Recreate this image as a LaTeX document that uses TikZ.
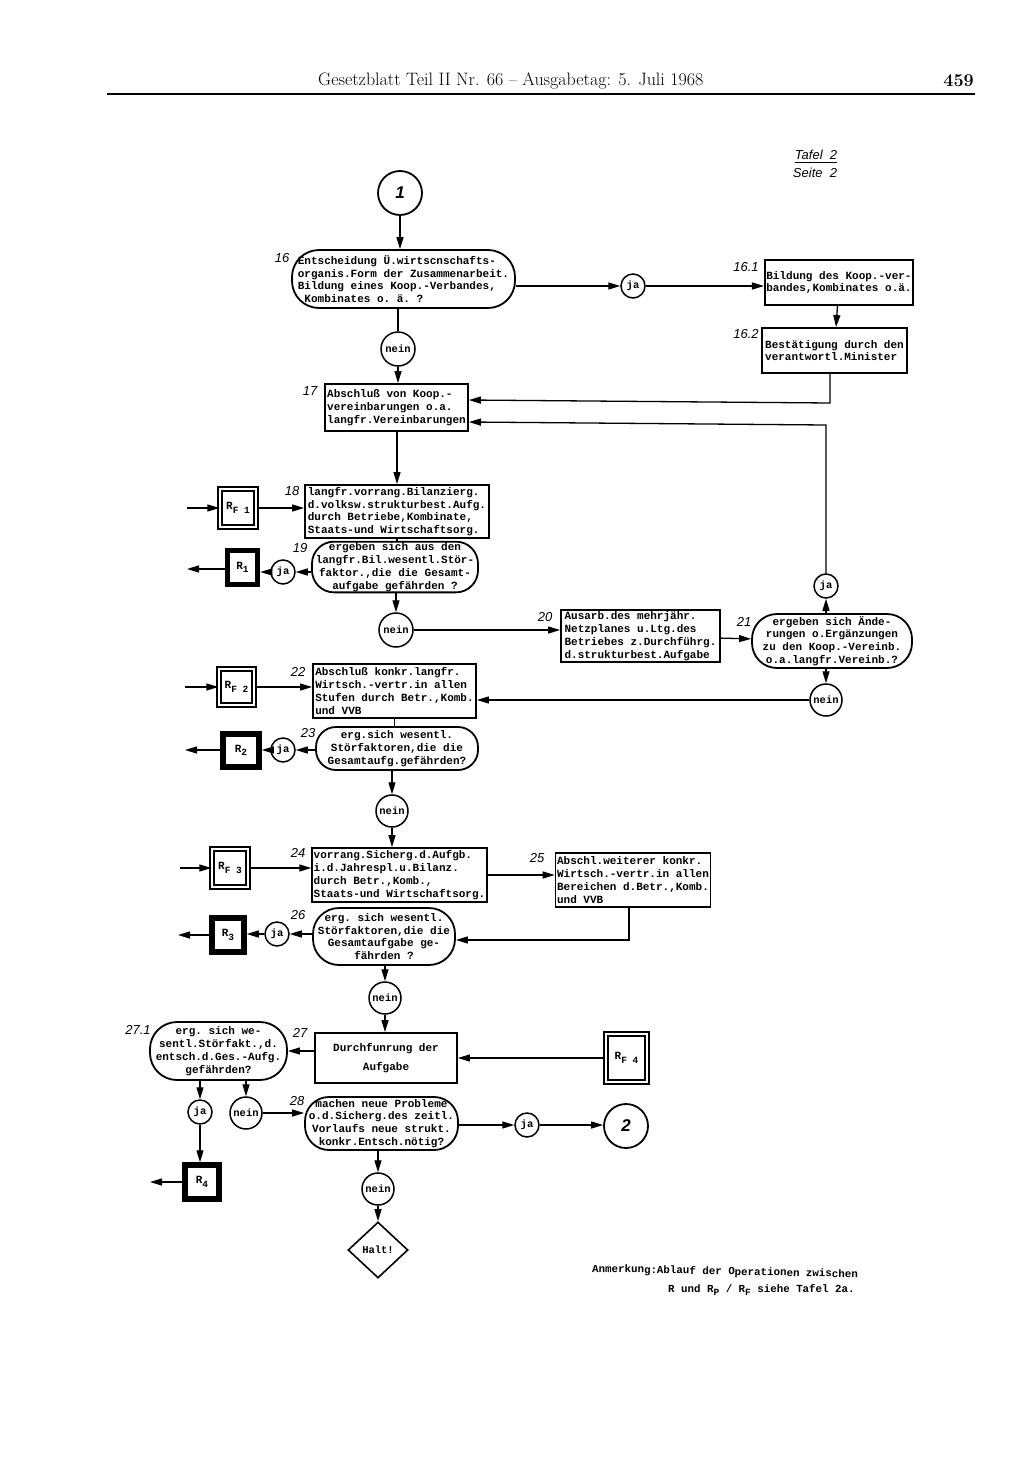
\documentclass[tikz,border=0pt]{standalone}
\usepackage{fontspec}
\setmonofont{Liberation Mono}
\setsansfont{Liberation Sans}
\usetikzlibrary{arrows.meta,shapes.geometric}
\newcommand\boxfont{\ttfamily\bfseries\fontsize{11}{12.8}\selectfont}
\newcommand\lblfont{\sffamily\itshape\fontsize{13}{15}\selectfont}
\newcommand\subs[1]{\raisebox{-3.5pt}{\fontsize{9.5}{10}\selectfont #1}}
\begin{document}
\begin{tikzpicture}[x=1pt,y=-1pt,
  box/.style={draw, line width=1.8pt, rectangle, inner xsep=1.5pt, inner ysep=2pt, align=left, font=\boxfont},
  stad/.style={draw, line width=1.8pt, rectangle, rounded corners=#1pt, inner sep=1pt, align=center, font=\boxfont},
  sz/.style 2 args={minimum width=#1pt, minimum height=#2pt},
  cir/.style={draw, circle, line width=1.5pt, minimum size=#1pt, inner sep=0pt, font=\ttfamily\bfseries\fontsize{10.5}{11}\selectfont},
  bigcir/.style={draw, circle, line width=1.8pt, minimum size=44pt, inner sep=0pt, font=\sffamily\itshape\bfseries\fontsize{17}{18}\selectfont},
  rf/.style={draw, double, double distance=2.5pt, line width=1.3pt, inner sep=0pt, font=\ttfamily\bfseries\fontsize{11}{12}\selectfont},
  rb/.style={draw, line width=5.5pt, inner sep=0pt, font=\ttfamily\bfseries\fontsize{11}{12}\selectfont},
  lbl/.style={font=\lblfont, inner sep=0pt},
  ar/.style={-{Triangle[length=12pt,width=7pt]}, line width=1.3pt},
  ln/.style={line width=1.3pt}
]
\useasboundingbox (0,0) rectangle (1024,1483);
\fill[white] (0,0) rectangle (1024,1483);

% header
\node[anchor=base west, inner sep=0pt, font=\fontsize{18}{20}\selectfont] (hdr) at (318,85) {Gesetzblatt Teil II Nr. 66 -- Ausgabetag: 5. Juli 1968};
\node[anchor=base east, inner sep=0pt, font=\bfseries\fontsize{18}{20}\selectfont] (pg) at (974,86) {459};
\coordinate (rl) at (107,94);
\coordinate (rr) at (975,94);
\draw[line width=2pt] (rl) -- (rr);

\node[lbl, anchor=base] (taf) at (816,159) {Tafel\ \ 2};
\draw[line width=1pt] ([yshift=-3pt]taf.base west) -- ([yshift=-3pt]taf.base east);
\node[lbl, anchor=base] (seite) at (815,177) {Seite\ \ 2};

% nodes
\node[bigcir] (c1) at (400,193) {1};
\node[stad=27, sz={223}{58}, align=left] (n16) at (403.5,279) {Entscheidung Ü.wirtscnschafts-\\organis.Form der Zusammenarbeit.\\Bildung eines Koop.-Verbandes,\\\ Kombinates o. ä. ?};
\node[lbl] (l16) at (282,258) {16};
\node[cir=24] (ja1) at (633,286) {ja};
\node[box, sz={146}{45}] (n161) at (839,282.5) {Bildung des Koop.-ver-\\bandes,Kombinates o.ä.};
\node[lbl] (l161) at (746,267) {16.1};
\node[box, sz={145}{45}] (n162) at (834.5,350.5) {Bestätigung durch den\\verantwortl.Minister};
\node[lbl] (l162) at (746,334) {16.2};
\node[cir=34] (nein16) at (398,349) {nein};
\node[box, sz={143}{47}] (n17) at (396.5,407.5) {Abschluß von Koop.-\\vereinbarungen o.a.\\langfr.Vereinbarungen};
\node[lbl] (l17) at (310,391) {17};
\node[box, sz={184}{53}] (n18) at (397,511.5) {langfr.vorrang.Bilanzierg.\\d.volksw.strukturbest.Aufg.\\durch Betriebe,Kombinate,\\Staats-und Wirtschaftsorg.};
\node[lbl] (l18) at (292,491) {18};
\node[rf, sz={36}{38}] (rf1) at (238,508) {R\subs{F 1}};
\node[stad=22, sz={166}{48}] (n19) at (395,567) {ergeben sich aus den\\langfr.Bil.wesentl.Stör-\\faktor.,die die Gesamt-\\aufgabe gefährden ?};
\node[lbl] (l19) at (300,548) {19};
\node[cir=24] (ja19) at (283,572) {ja};
\node[rb, sz={30}{34}] (r1) at (242.5,567.5) {R\subs{1}};
\node[cir=34] (nein19) at (396,630) {nein};
\node[box, sz={159}{52}] (n20) at (640.5,636) {Ausarb.des mehrjähr.\\Netzplanes u.Ltg.des\\Betriebes z.Durchführg.\\d.strukturbest.Aufgabe};
\node[lbl] (l20) at (545,617) {20};
\node[stad=25, sz={160}{54}] (n21) at (832,641) {ergeben sich Ände-\\rungen o.Ergänzungen\\zu den Koop.-Vereinb.\\o.a.langfr.Vereinb.?};
\node[lbl] (l21) at (744,622) {21};
\node[cir=24] (ja21) at (826,586) {ja};
\node[cir=32] (nein21) at (826,700) {nein};
\node[box, sz={163}{54}] (n22) at (394.5,691) {Abschluß konkr.langfr.\\Wirtsch.-vertr.in allen\\Stufen durch Betr.,Komb.\\und VVB};
\node[lbl] (l22) at (298,672) {22};
\node[rf, sz={35}{36}] (rf2) at (236.5,687) {R\subs{F 2}};
\node[stad=20, sz={162}{43}] (n23) at (397,748.5) {erg.sich wesentl.\\Störfaktoren,die die\\Gesamtaufg.gefährden?};
\node[lbl] (l23) at (308,733) {23};
\node[cir=24] (ja23) at (283,750) {ja};
\node[rb, sz={36}{33}] (r2) at (241,750.5) {R\subs{2}};
\node[cir=32] (nein23) at (392,811) {nein};
\node[box, sz={173}{54}] (n24) at (399.5,875) {vorrang.Sicherg.d.Aufgb.\\i.d.Jahrespl.u.Bilanz.\\durch Betr.,Komb.,\\Staats-und Wirtschaftsorg.};
\node[lbl] (l24) at (298,853) {24};
\node[rf, sz={36}{38}] (rf3) at (230,868) {R\subs{F 3}};
\node[box, sz={154}{54}] (n25) at (633,880) {Abschl.weiterer konkr.\\Wirtsch.-vertr.in allen\\Bereichen d.Betr.,Komb.\\und VVB};
\node[lbl] (l25) at (537,858) {25};
\node[stad=26, sz={142}{57}] (n26) at (384,936.5) {erg. sich wesentl.\\Störfaktoren,die die\\Gesamtaufgabe ge-\\fährden ?};
\node[lbl] (l26) at (298,915) {26};
\node[cir=24] (ja26) at (277,934) {ja};
\node[rb, sz={32}{34}] (r3) at (228,935) {R\subs{3}};
\node[cir=32] (nein26) at (385,998) {nein};
\node[box, sz={142}{50}, align=center] (n27) at (386,1058) {Durchfunrung der\\[7pt]Aufgabe};
\node[lbl] (l27) at (300,1033) {27};
\node[rf, sz={41}{48}] (rf4) at (626.5,1058) {R\subs{F 4}};
\node[stad=27, sz={137}{58}] (n271) at (218.5,1051) {erg. sich we-\\sentl.Störfakt.,d.\\entsch.d.Ges.-Aufg.\\gefährden?};
\node[lbl] (l271) at (138,1030) {27.1};
\node[cir=24] (ja27) at (200,1112) {ja};
\node[cir=32] (nein27) at (246,1113) {nein};
\node[rb, sz={34}{34}] (r4) at (202,1182) {R\subs{4}};
\node[stad=24, sz={153}{53}] (n28) at (381.5,1123.5) {machen neue Probleme\\o.d.Sicherg.des zeitl.\\Vorlaufs neue strukt.\\konkr.Entsch.nötig?};
\node[lbl] (l28) at (297,1101) {28};
\node[cir=24] (ja28) at (527,1125) {ja};
\node[bigcir] (c2) at (626,1126) {2};
\node[cir=32] (nein28) at (378,1189) {nein};
\node[draw, diamond, shape aspect=1, line width=1.6pt, minimum width=60pt, minimum height=56pt, inner sep=0pt, font=\ttfamily\bfseries\fontsize{10.5}{12}\selectfont] (halt) at (378,1250) {Halt!};

\node[anchor=base west, inner sep=0pt, rotate=-1.2, font=\ttfamily\bfseries\fontsize{10.8}{12}\selectfont] (anm1) at (592,1272) {Anmerkung:Ablauf der Operationen zwischen};
\node[anchor=base west, inner sep=0pt, font=\ttfamily\bfseries\fontsize{10.8}{12}\selectfont] (anm2) at (668,1292) {R und R\subs{P} / R\subs{F} siehe Tafel 2a.};

% helper coordinates
\coordinate (y400) at (0,400);
\coordinate (y403) at (0,403);
\coordinate (y422) at (0,422);
\coordinate (y425) at (0,425);
\coordinate (y940) at (0,940);
\coordinate (in1) at (187,508);
\coordinate (out1) at (187,569);
\coordinate (in2) at (185,687);
\coordinate (out2) at (185,750);
\coordinate (in3) at (180,868);
\coordinate (out3) at (178,935);
\coordinate (out4) at (150,1182);
\coordinate (x200) at (200,0);
\coordinate (x246) at (246,0);
\coordinate (x629) at (629,0);

% connectors
\draw[ar] (c1) -- (n16.north -| c1);
\draw[ar] (n16.east |- ja1) -- (ja1);
\draw[ar] (ja1) -- (n161.west |- ja1);
\draw[ln] (n16.south -| nein16) -- (nein16);
\draw[ar] (nein16) -- (n17.north -| nein16);
\draw[ar] (n161) -- (n162);
\draw[ar] (n162.south -| 830,0) -- (830,403) -- (n17.east |- y400);
\draw[ar] (ja21) -- (ja21 |- y425) -- (n17.east |- y422);
\draw[ar] (n17.south -| n18) -- (n18.north);
\draw[ar] (in1) -- (rf1);
\draw[ar] (rf1) -- (n18.west |- rf1);
\draw[ln] (n18.south) -- (n19.north -| n18.south);
\draw[ar] (n19.west |- ja19) -- (ja19);
\draw[ar] (ja19) -- (r1.east |- ja19);
\draw[ar] (r1.west |- out1) -- (out1);
\draw[ar] (n19.south -| nein19) -- (nein19);
\draw[ar] (nein19) -- (n20.west |- nein19);
\draw[ar] (n20) -- (n21);
\draw[ar] (n21.north -| ja21) -- (ja21);
\draw[ar] (n21.south -| nein21) -- (nein21);
\draw[ar] (nein21) -- (n22.east |- nein21);
\draw[ar] (in2) -- (rf2);
\draw[ar] (rf2) -- (n22.west |- rf2);
\draw[ln] (n22.south) -- (n23.north -| n22.south);
\draw[ar] (n23.west |- ja23) -- (ja23);
\draw[ar] (ja23) -- (r2.east |- ja23);
\draw[ar] (r2.west |- out2) -- (out2);
\draw[ar] (n23.south -| nein23) -- (nein23);
\draw[ar] (nein23) -- (n24.north -| nein23);
\draw[ar] (in3) -- (rf3);
\draw[ar] (rf3) -- (n24.west |- rf3);
\draw[ar] (n24.east) -- (n25.west |- n24.east);
\draw[ar] (n25.south -| x629) -- (x629 |- y940) -- (n26.east |- y940);
\draw[ar] (n26.west |- ja26) -- (ja26);
\draw[ar] (ja26) -- (r3.east |- ja26);
\draw[ar] (r3.west |- out3) -- (out3);
\draw[ar] (n26.south -| nein26) -- (nein26);
\draw[ar] (nein26) -- (n27.north -| nein26);
\draw[ar] (rf4) -- (n27.east |- rf4);
\draw[ar] (n27.west |- n271.east) -- (n271.east);
\draw[ar] (n271.south -| x200) -- (ja27);
\draw[ar] (n271.south -| x246) -- (nein27);
\draw[ar] (ja27) -- (r4.north -| ja27);
\draw[ar] (r4.west |- out4) -- (out4);
\draw[ar] (nein27) -- (n28.west |- nein27);
\draw[ar] (n28.east |- ja28) -- (ja28);
\draw[ar] (ja28) -- (c2.west |- ja28);
\draw[ar] (n28.south -| nein28) -- (nein28);
\draw[ar] (nein28) -- (halt);
\end{tikzpicture}
\end{document}
